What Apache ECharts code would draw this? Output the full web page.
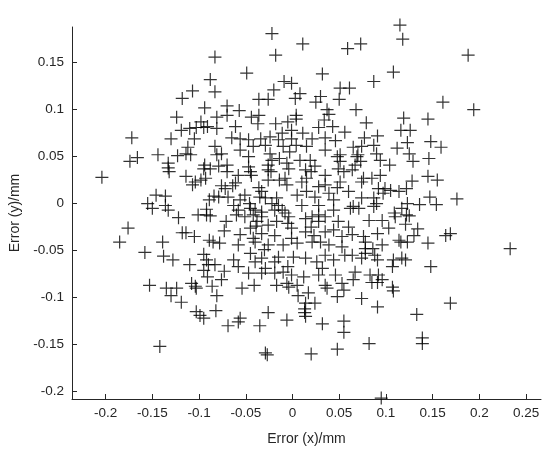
<!DOCTYPE html>
<html>
<head>
<meta charset="utf-8">
<script src="https://cdn.jsdelivr.net/npm/echarts@6/dist/echarts.min.js"></script>
<style>
  html, body { margin: 0; padding: 0; background: #fff; }
  #chart { width: 550px; height: 456px; }
</style>
</head>
<body>
<div id="chart"></div>
<script>
  // tick labels
  var xTicks = [-0.2, -0.15, -0.1, -0.05, 0, 0.05, 0.1, 0.15, 0.2, 0.25];
  var yTicks = [-0.2, -0.15, -0.1, -0.05, 0, 0.05, 0.1, 0.15];

  // error points [x, y] in mm, read by region of the plot
  var topLeft = [
    [-0.083,0.156],[-0.088,0.132],[-0.083,0.119],[-0.107,0.120],[-0.118,0.112],[-0.094,0.102],[-0.070,0.104],
    [-0.070,0.094],[-0.124,0.092],[-0.081,0.092],[-0.098,0.087],[-0.091,0.082],[-0.119,0.078],[-0.110,0.080],
    [-0.103,0.081],[-0.095,0.081],[-0.081,0.080],[-0.172,0.070],[-0.130,0.069],[-0.105,0.069],[-0.083,0.061],
    [-0.112,0.060]
  ];
  var topMid = [
    [-0.022,0.181],[0.011,0.170],[-0.018,0.158],[0.059,0.165],[0.073,0.170],[-0.049,0.139],[0.032,0.138],
    [0.087,0.130],[-0.009,0.130],[-0.001,0.128],[-0.020,0.121],[0.051,0.123],[0.061,0.123],[0.008,0.117],
    [-0.036,0.111],[-0.026,0.111],[0.003,0.112],[0.030,0.114],[0.025,0.108],[0.050,0.111],[-0.057,0.099],
    [-0.044,0.092],[-0.036,0.094],[0.004,0.094],[0.004,0.090],[0.037,0.100],[0.039,0.095],[0.068,0.100],
    [-0.061,0.082],[-0.037,0.085],[-0.018,0.085],[-0.005,0.087],[0.034,0.089],[0.079,0.086],[0.028,0.081],
    [0.043,0.082],[-0.011,0.075],[0.011,0.075],[0.056,0.076],[-0.001,0.078],[-0.065,0.070],[-0.056,0.069],
    [-0.047,0.068],[-0.034,0.069],[-0.024,0.071],[-0.015,0.068],[-0.001,0.069],[0.021,0.069],[0.035,0.070],
    [0.046,0.067],[0.077,0.070],[0.091,0.072],[-0.042,0.061],[-0.029,0.062],[-0.010,0.061],[0.004,0.062],
    [0.015,0.061],[0.065,0.060],[0.074,0.061],[0.087,0.062]
  ];
  var topRight = [
    [0.115,0.190],[0.118,0.175],[0.188,0.158],[0.108,0.140],[0.161,0.108],[0.194,0.100],[0.119,0.091],
    [0.145,0.090],[0.116,0.078],[0.126,0.078],[0.123,0.065],[0.148,0.066],[0.159,0.060],[0.112,0.059]
  ];
  var midLeft = [
    [-0.174,0.045],[-0.166,0.049],[-0.144,0.052],[-0.204,0.028],[-0.133,0.043],[-0.133,0.038],[-0.132,0.034],
    [-0.123,0.051],[-0.114,0.053],[-0.109,0.052],[-0.094,0.041],[-0.095,0.037],[-0.088,0.037],[-0.114,0.029],
    [-0.104,0.023],[-0.107,0.020],[-0.098,0.025],[-0.093,0.027],[-0.081,0.052],[-0.076,0.053],[-0.079,0.040],
    [-0.070,0.041],[-0.070,0.034],[-0.076,0.019],[-0.072,0.016],[-0.146,0.009],[-0.136,0.008],[-0.155,0.000],
    [-0.150,-0.005],[-0.136,-0.002],[-0.133,-0.007],[-0.122,-0.015],[-0.101,-0.012],[-0.092,-0.012],[-0.088,-0.013],
    [-0.084,0.008],[-0.089,0.004],[-0.092,-0.006],[-0.079,0.007],[-0.071,-0.019],[-0.176,-0.026],[-0.185,-0.041],
    [-0.139,-0.041],[-0.118,-0.031],[-0.114,-0.031],[-0.105,-0.035],[-0.089,-0.039],[-0.085,-0.041],[-0.078,-0.042],
    [-0.073,-0.029],[-0.158,-0.052],[-0.138,-0.056],[-0.128,-0.060],[-0.110,-0.065],[-0.095,-0.054],[-0.092,-0.060],
    [-0.090,-0.065],[-0.083,-0.065],[-0.095,-0.071],[-0.073,-0.072]
  ];
  var center = [
    [-0.056,0.057],[0.035,0.057],
    [-0.047,0.050],[-0.022,0.046],[-0.014,0.048],[0.008,0.046],[0.019,0.046],[0.048,0.050],[0.051,0.045],
    [0.069,0.050],[0.073,0.045],[0.094,0.046],
    [-0.058,0.030],[-0.047,0.039],[-0.045,0.034],[-0.026,0.036],[-0.004,0.037],[0.014,0.036],[0.020,0.034],
    [0.024,0.040],[0.035,0.030],[0.049,0.037],[0.055,0.034],[0.064,0.036],[0.094,0.030],
    [-0.061,0.022],[-0.036,0.017],[-0.026,0.025],[-0.008,0.027],[-0.006,0.020],[0.010,0.023],[0.015,0.027],
    [0.035,0.020],[0.048,0.017],[0.051,0.023],[0.076,0.027],[0.085,0.027],[0.092,0.016],
    [-0.069,0.007],[-0.051,0.009],[-0.033,0.013],[-0.029,0.006],[-0.017,0.006],[0.005,0.009],[0.015,0.013],
    [0.039,0.011],[0.044,0.004],[0.060,0.013],[0.074,0.006],[0.087,0.006],
    [-0.063,-0.002],[-0.058,-0.007],[-0.045,-0.005],[-0.022,0.000],[-0.011,-0.007],[0.010,-0.002],[0.028,-0.002],
    [0.044,-0.007],[0.062,-0.005],[0.065,-0.003],[0.071,-0.005],[0.087,-0.003],
    [-0.051,-0.014],[-0.042,-0.012],[-0.038,-0.019],[-0.033,-0.014],[-0.026,-0.023],[-0.008,-0.010],[-0.004,-0.014],
    [0.014,-0.016],[0.021,-0.014],[0.028,-0.012],[0.049,-0.019],[0.082,-0.018],[0.096,-0.018],
    [-0.056,-0.033],[-0.045,-0.026],[-0.033,-0.032],[-0.019,-0.034],[-0.001,-0.026],[0.014,-0.030],[0.023,-0.034],
    [0.035,-0.030],[0.044,-0.028],[0.053,-0.035],[0.064,-0.033],[0.091,-0.032],
    [-0.058,-0.044],[-0.040,-0.041],[-0.026,-0.044],[-0.010,-0.044],[0.005,-0.042],[0.021,-0.041],[0.030,-0.041],
    [0.039,-0.044],[0.053,-0.046],[0.078,-0.048],[0.096,-0.044],
    [-0.063,-0.060],[-0.045,-0.053],[-0.033,-0.058],[-0.019,-0.062],[0.001,-0.057],[0.014,-0.058],[0.026,-0.062],
    [0.035,-0.055],[0.044,-0.060],[0.064,-0.055],[0.074,-0.058],[0.091,-0.060],
    [-0.058,-0.067],[-0.029,-0.069],[-0.010,-0.073],[0.032,-0.069]
  ];
  var centerExtra = [
    [-0.064,0.019],[-0.040,-0.007],[-0.033,-0.009],[-0.039,-0.024],[-0.024,0.053],[-0.003,0.055],[0.051,0.052],
    [0.070,0.052],[0.090,0.053],[-0.026,0.041],[-0.023,0.034],[-0.006,0.043],[0.067,0.041],[-0.044,0.030],
    [-0.014,0.025],[0.028,0.018],[0.074,0.023],[-0.056,0.004],[-0.046,0.000],[-0.035,0.007],[-0.015,-0.002],
    [0.024,0.007],[0.090,0.000],[-0.060,-0.012],[-0.019,-0.007],[0.035,-0.014],[-0.017,-0.019],[-0.005,-0.021],
    [0.020,-0.025],[0.028,-0.019],[0.060,-0.025],[-0.042,-0.037],[-0.001,-0.037],[0.076,-0.035],[0.078,-0.041],
    [0.086,-0.048],[-0.030,-0.049],[-0.015,-0.057],[0.056,-0.055],[0.078,-0.053],[0.088,-0.055],[-0.040,-0.062],
    [-0.005,-0.067]
  ];
  var midRight = [
    [0.125,0.053],[0.129,0.045],[0.146,0.048],[0.104,0.041],[0.128,0.024],[0.145,0.029],[0.155,0.025],
    [0.099,0.016],[0.105,0.014],[0.114,0.013],[0.122,0.016],[0.097,0.011],[0.147,0.007],[0.176,0.005],
    [0.123,0.000],[0.136,-0.001],[0.154,-0.001],[0.117,-0.005],[0.109,-0.010],[0.122,-0.012],[0.125,-0.013],
    [0.110,-0.014],[0.121,-0.022],[0.103,-0.026],[0.134,-0.027],[0.130,-0.034],[0.114,-0.039],[0.123,-0.041],
    [0.116,-0.041],[0.145,-0.042],[0.164,-0.034],[0.169,-0.032],[0.233,-0.048],[0.108,-0.060],[0.117,-0.058],
    [0.121,-0.060],[0.107,-0.067],[0.148,-0.067]
  ];
  var bottomLeft = [
    [-0.153,-0.087],[-0.135,-0.090],[-0.124,-0.090],[-0.130,-0.098],[-0.119,-0.105],[-0.108,-0.085],[-0.104,-0.088],
    [-0.103,-0.090],[-0.091,-0.078],[-0.086,-0.088],[-0.076,-0.081],[-0.081,-0.098],[-0.103,-0.115],[-0.099,-0.119],
    [-0.095,-0.122],[-0.082,-0.114],[-0.069,-0.130],[-0.142,-0.152]
  ];
  var bottomMid = [
    [-0.054,-0.090],[-0.041,-0.087],[-0.047,-0.074],[-0.033,-0.074],[-0.019,-0.074],[-0.001,-0.076],[0.012,-0.078],
    [0.028,-0.076],[0.046,-0.076],[0.067,-0.073],[0.083,-0.076],[0.092,-0.076],[-0.017,-0.087],[-0.006,-0.085],
    [0.005,-0.087],[-0.004,-0.089],[0.035,-0.087],[0.053,-0.085],[0.065,-0.081],[0.085,-0.084],[0.091,-0.084],
    [0.037,-0.090],[0.055,-0.092],[0.006,-0.098],[0.017,-0.095],[0.048,-0.099],[0.074,-0.101],[0.014,-0.106],
    [0.024,-0.106],[0.013,-0.112],[0.013,-0.116],[0.014,-0.120],[0.091,-0.110],[-0.026,-0.116],[-0.056,-0.122],
    [-0.058,-0.126],[-0.035,-0.130],[-0.006,-0.124],[0.032,-0.128],[0.055,-0.125],[0.055,-0.137],[0.082,-0.149],
    [-0.029,-0.159],[-0.027,-0.161],[0.020,-0.160],[0.048,-0.155]
  ];
  var bottomRight = [
    [0.096,-0.081],[0.107,-0.089],[0.108,-0.093],[0.169,-0.106],[0.133,-0.118],[0.139,-0.143],[0.139,-0.149],
    [0.095,-0.207]
  ];

  var allPoints = [].concat(topLeft, topMid, topRight, midLeft, center, centerExtra, midRight, bottomLeft, bottomMid, bottomRight);

  var axisColor = '#262626';
  var fontFamily = 'Liberation Sans, Arial, Helvetica, sans-serif';

  var myChart = echarts.init(document.getElementById('chart'), null, { renderer: 'canvas' });
  var option = {
    backgroundColor: '#fff',
    animation: false,
    grid: { left: 72, right: 9, top: 27, bottom: 57 },
    xAxis: {
      type: 'value',
      min: -0.236,
      max: 0.266,
      name: 'Error (x)/mm',
      nameLocation: 'middle',
      nameGap: 33,
      nameTextStyle: { color: axisColor, fontSize: 14, fontFamily: fontFamily },
      axisLine: { onZero: false, lineStyle: { color: axisColor, width: 1 } },
      axisTick: { inside: true, length: 5, customValues: xTicks, lineStyle: { color: axisColor } },
      axisLabel: { customValues: xTicks, color: axisColor, fontSize: 13.5, fontFamily: fontFamily, margin: 7 },
      splitLine: { show: false }
    },
    yAxis: {
      type: 'value',
      min: -0.208,
      max: 0.188,
      name: 'Error (y)/mm',
      nameLocation: 'middle',
      nameGap: 50,
      nameTextStyle: { color: axisColor, fontSize: 14, fontFamily: fontFamily },
      axisLine: { onZero: false, lineStyle: { color: axisColor, width: 1 } },
      axisTick: { inside: true, length: 5, customValues: yTicks, lineStyle: { color: axisColor } },
      axisLabel: { customValues: yTicks, color: axisColor, fontSize: 13.5, fontFamily: fontFamily, margin: 8 },
      splitLine: { show: false }
    },
    series: [{
      type: 'scatter',
      data: allPoints,
      clip: false,
      symbol: 'path://M5,0L5,10M0,5L10,5',
      symbolSize: 13,
      itemStyle: { color: 'transparent', borderColor: '#000', borderWidth: 1.2 }
    }]
  };
  myChart.setOption(option);
</script>
</body>
</html>
